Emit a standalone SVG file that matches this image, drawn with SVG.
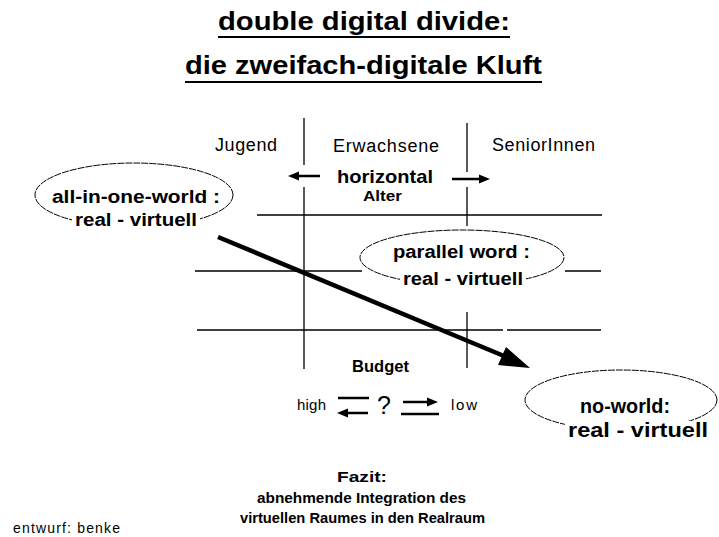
<svg xmlns="http://www.w3.org/2000/svg" width="719" height="537" viewBox="0 0 719 537">
<style>
text{font-family:"Liberation Sans",Arial,sans-serif;fill:#000}
.b{font-weight:bold}
.grid{stroke:#000;stroke-width:1.3;fill:none}
.ell{fill:#fff;stroke:#000;stroke-width:1;stroke-dasharray:7 1}
.ko{fill:#fff}
.ar{stroke:#000;stroke-width:2.5;fill:none}
</style>
<rect width="719" height="537" fill="#fff"/>
<g id="title">
<text class="b" x="218" y="30" font-size="25" textLength="292" lengthAdjust="spacingAndGlyphs">double digital divide:</text>
<rect x="218" y="36" width="292" height="2"/>
<text class="b" x="185" y="74" font-size="25" textLength="357" lengthAdjust="spacingAndGlyphs">die zweifach-digitale Kluft</text>
<rect x="185" y="81" width="357" height="2"/>
</g>
<g id="grid">
<path class="grid" d="M304 118V165M304 187V369M467 123V172M467 187V226M467 312V368M257 215H602M195 271H362M565 271H601M197 330H503M507 330H601"/>
</g>
<g id="headers">
<text x="215" y="151" font-size="18" textLength="62">Jugend</text>
<text x="333" y="152" font-size="18" textLength="106">Erwachsene</text>
<text x="492" y="151" font-size="18" textLength="103">SeniorInnen</text>
<text class="b" x="337" y="183" font-size="19" textLength="96" lengthAdjust="spacingAndGlyphs">horizontal</text>
<text class="b" x="363" y="201" font-size="15" textLength="39" lengthAdjust="spacingAndGlyphs">Alter</text>
</g>
<g id="all-in-one-world">
<ellipse class="ell" cx="134" cy="195" rx="99" ry="32"/>
<rect class="ko" x="72" y="212" width="128" height="19"/>
<text class="b" x="52" y="203" font-size="18" textLength="168" lengthAdjust="spacingAndGlyphs">all-in-one-world :</text>
<text class="b" x="75" y="226" font-size="18" textLength="122" lengthAdjust="spacingAndGlyphs">real  - virtuell</text>
</g>
<g id="parallel-word">
<ellipse class="ell" cx="462" cy="257.5" rx="102" ry="27.5"/>
<rect class="ko" x="400" y="271" width="126" height="19"/>
<text class="b" x="393" y="258" font-size="18" textLength="137" lengthAdjust="spacingAndGlyphs">parallel word :</text>
<text class="b" x="403" y="285" font-size="18" textLength="120" lengthAdjust="spacingAndGlyphs">real  - virtuell</text>
</g>
<g id="no-world">
<ellipse class="ell" cx="621" cy="400" rx="96" ry="30"/>
<rect class="ko" x="565" y="421" width="146" height="21"/>
<text class="b" x="580" y="413" font-size="20" textLength="90" lengthAdjust="spacingAndGlyphs">no-world:</text>
<text class="b" x="568" y="437" font-size="20" textLength="140" lengthAdjust="spacingAndGlyphs">real  - virtuell</text>
</g>
<g id="budget">
<text class="b" x="352" y="372" font-size="16" textLength="57" lengthAdjust="spacingAndGlyphs">Budget</text>
<text x="297" y="410" font-size="15" textLength="29">high</text>
<text x="377" y="414" font-size="25">?</text>
<text x="451" y="410" font-size="15" textLength="26">low</text>
</g>
<g id="connectors">
<path class="ar" d="M320 176H296M452 179H482"/>
<polygon points="288,176 299,171.5 299,180.5"/>
<polygon points="490,179 479,174.5 479,183.5"/>
<path d="M218 237L504 356" stroke="#000" stroke-width="4.5" fill="none"/>
<polygon points="530,368 506,347 498,365"/>
<path class="ar" d="M338 398H369M346 413H368M403 402H430M401 414H439"/>
<polygon points="337,413 348,408.5 348,417.5"/>
<polygon points="438,402 427,397.5 427,406.5"/>
</g>
<g id="fazit">
<text class="b" x="337" y="482" font-size="15" textLength="50" lengthAdjust="spacingAndGlyphs">Fazit:</text>
<text class="b" x="257" y="503" font-size="15" textLength="209" lengthAdjust="spacingAndGlyphs">abnehmende Integration des</text>
<text class="b" x="240" y="523" font-size="15" textLength="245" lengthAdjust="spacingAndGlyphs">virtuellen Raumes in den Realraum</text>
</g>
<g id="credit">
<text x="13" y="533" font-size="14" textLength="107">entwurf: benke</text>
</g>
</svg>
